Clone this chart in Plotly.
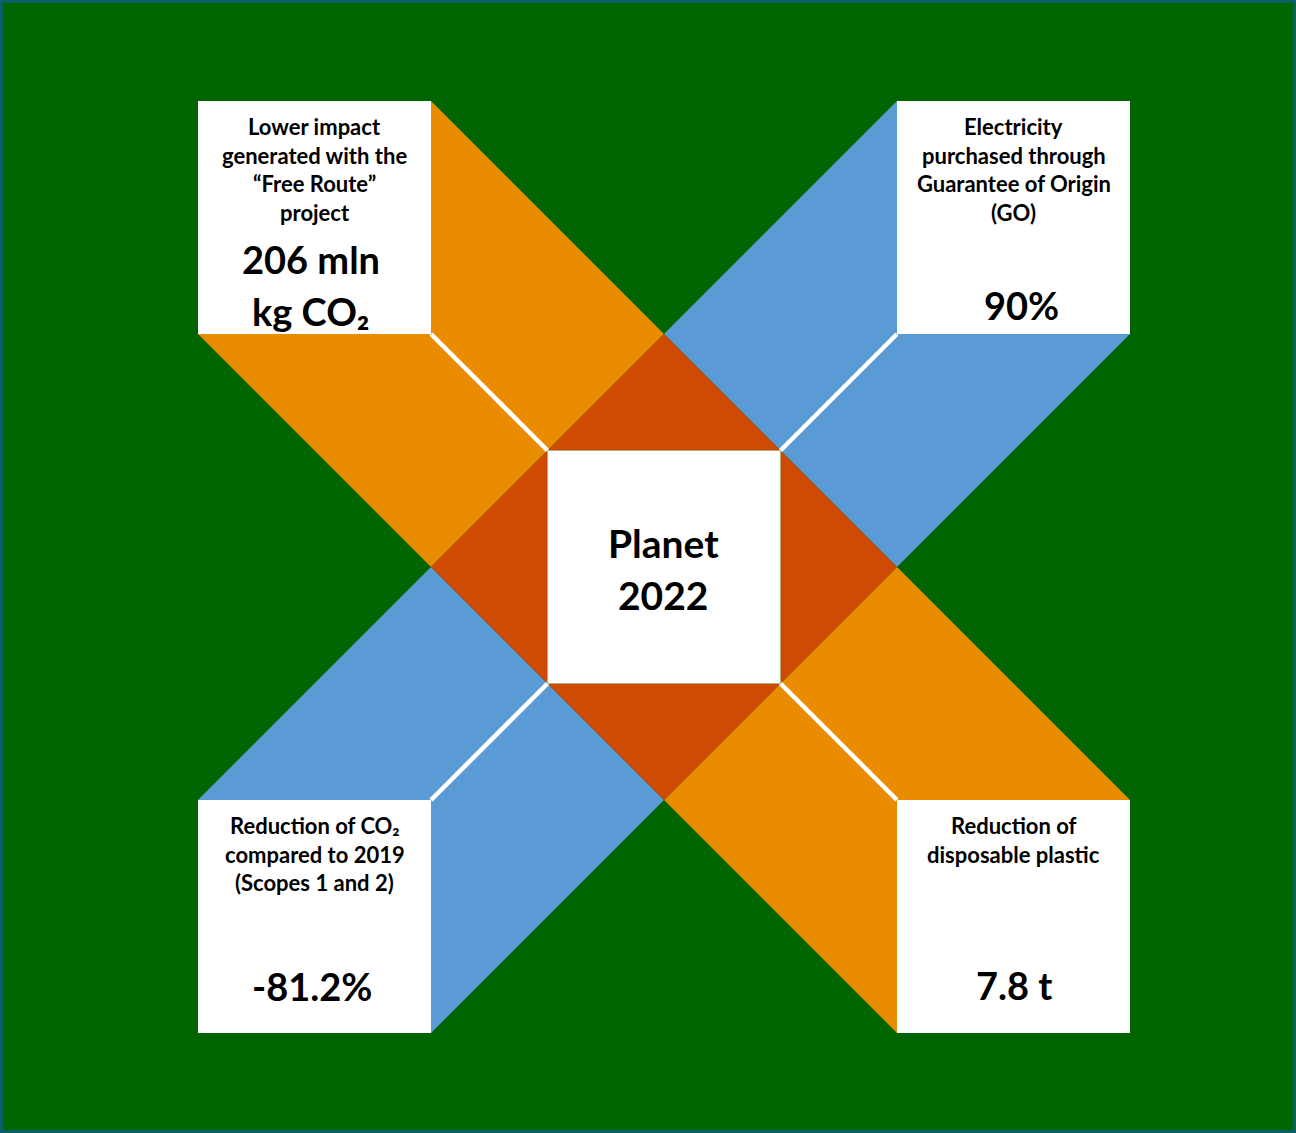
import plotly.graph_objects as go

# ---- content -------------------------------------------------------------
center_title = ["Planet", "2022"]

box_labels = [
    ["Lower impact", "generated with the", "\u201cFree Route\u201d", "project"],
    ["Electricity", "purchased through", "Guarantee of Origin", "(GO)"],
    ["Reduction of CO\u2082", "compared to 2019", "(Scopes 1 and 2)"],
    ["Reduction of", "disposable plastic"],
]
box_values = [
    ["206 mln", "kg CO\u2082"],
    ["90%"],
    ["-81.2%"],
    ["7.8 t"],
]

# ---- styling / geometry ---------------------------------------------------
W, H = 1296, 1133
GREEN = "#006400"
FRAME = "#0d5f66"
ORANGE = "#EA8C00"
BLUE = "#5B9BD5"
RUST = "#CF4A02"
WHITE = "#FFFFFF"
FONT = "Lato"

cx, cy, s = 664, 567, 233      # centre of the cross and grid unit
h = s / 2

# corner boxes: each spans [s, 2s] from the centre along both axes
corners = [(-1, -1), (1, -1), (-1, 1), (1, 1)]
arm_colors = [ORANGE, BLUE, BLUE, ORANGE]

fig = go.Figure()


def poly(pts, color):
    xs = [p[0] for p in pts] + [pts[0][0]]
    ys = [p[1] for p in pts] + [pts[0][1]]
    fig.add_trace(go.Scatter(x=xs, y=ys, mode="lines", fill="toself",
                             fillcolor=color, line=dict(width=0, color=color),
                             hoverinfo="skip", showlegend=False))


# arms (extruded faces behind each corner box)
for (sx, sy), col in zip(corners, arm_colors):
    inner = (cx + sx * s, cy + sy * s)              # inner corner of the box
    sq = (cx + sx * h, cy + sy * h)                 # matching corner of the centre square
    apex_v = (cx, cy + sy * s)                      # apex of top/bottom triangle
    apex_h = (cx + sx * s, cy)                      # apex of left/right triangle
    box_far_x = (cx + sx * s, cy + sy * 2 * s)      # box corner on vertical outer edge
    box_far_y = (cx + sx * 2 * s, cy + sy * s)      # box corner on horizontal outer edge
    poly([box_far_x, apex_v, sq, apex_h, box_far_y, inner], col)

# rust triangles around the centre square
poly([(cx - h, cy - h), (cx + h, cy - h), (cx, cy - s)], RUST)
poly([(cx + h, cy - h), (cx + h, cy + h), (cx + s, cy)], RUST)
poly([(cx - h, cy + h), (cx + h, cy + h), (cx, cy + s)], RUST)
poly([(cx - h, cy - h), (cx - h, cy + h), (cx - s, cy)], RUST)

# white edges between the two faces of each arm
for sx, sy in corners:
    fig.add_trace(go.Scatter(x=[cx + sx * s, cx + sx * h], y=[cy + sy * s, cy + sy * h],
                             mode="lines", line=dict(color=WHITE, width=4.5),
                             hoverinfo="skip", showlegend=False))

# centre square and corner boxes
poly([(cx - h, cy - h), (cx + h, cy - h), (cx + h, cy + h), (cx - h, cy + h)], WHITE)
for sx, sy in corners:
    x0, x1 = sorted([cx + sx * s, cx + sx * 2 * s])
    y0, y1 = sorted([cy + sy * s, cy + sy * 2 * s])
    poly([(x0, y0), (x1, y0), (x1, y1), (x0, y1)], WHITE)

# ---- text -----------------------------------------------------------------
annotations = []


def txt(x, y, text, size, xshift=0):
    annotations.append(dict(x=x, y=y, xref="x", yref="y", text=text, showarrow=False,
                            xanchor="center", yanchor="middle", xshift=xshift,
                            font=dict(family=FONT, size=size, color="#000000", weight=700)))


label_step = 28.7
value_offsets = [[158, 210], [204], [186], [185]]
value_shift = [-4, 8, -3, 0]
for (sx, sy), labels, values, offs, xsh in zip(corners, box_labels, box_values,
                                               value_offsets, value_shift):
    bx = cx + sx * 1.5 * s
    top = min(cy + sy * s, cy + sy * 2 * s)
    for i, line in enumerate(labels):
        txt(bx, top + 25.5 + i * label_step, line, 22)
    for v, off in zip(values, offs):
        txt(bx, top + off, v, 38, xsh)

txt(cx - 1, cy - 24, center_title[0], 39)
txt(cx - 1, cy + 28, center_title[1], 39)

fig.update_layout(
    width=W, height=H,
    margin=dict(l=3, r=3, t=3, b=3),
    paper_bgcolor=FRAME, plot_bgcolor=GREEN,
    xaxis=dict(range=[3, W - 3], visible=False, fixedrange=True),
    yaxis=dict(range=[H - 3, 3], visible=False, fixedrange=True),
    annotations=annotations,
    showlegend=False,
)

fig.write_html("out.html", config={"displayModeBar": False})
